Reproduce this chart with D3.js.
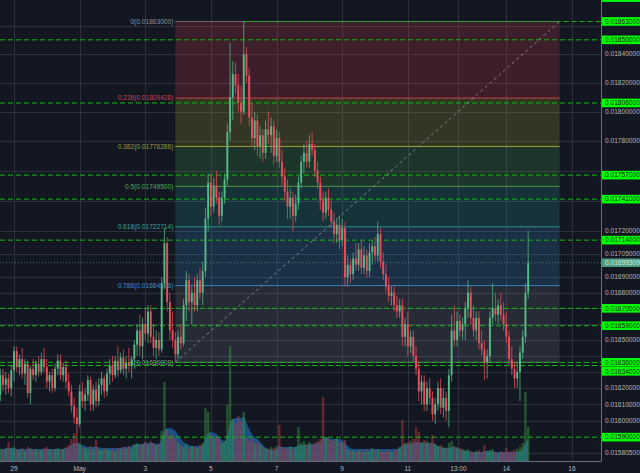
<!DOCTYPE html>
<html><head><meta charset="utf-8">
<script src="https://cdn.jsdelivr.net/npm/d3@7/dist/d3.min.js"></script>
<style>html,body{margin:0;padding:0;background:#131722;overflow:hidden}svg{display:block}</style>
</head><body><svg id="c" width="640" height="473"></svg>
<script>
// ---------- DATA (2h candles) ----------
const startTime = Date.UTC(2018,3,28,14); // first candle: Apr 28 14:00
const candleHours = 2;
const open = [
0.01616,0.01628,0.01622,0.01626,0.01620,0.01631,0.01643,0.01633,0.01638,0.01629,
0.01635,0.01617,0.01632,0.01628,0.01635,0.01630,0.01638,0.01633,0.01624,0.01628,
0.01620,0.01632,0.01637,0.01628,0.01633,0.01624,0.01618,0.01609,0.01602,0.01598,
0.01618,0.01612,0.01616,0.01625,0.01610,0.01619,0.01612,0.01622,0.01626,0.01618,
0.01629,0.01634,0.01628,0.01637,0.01631,0.01639,0.01632,0.01636,0.01634,0.01638,
0.01647,0.01656,0.01646,0.01660,0.01654,0.01668,0.01652,0.01645,0.01650,0.01644,
0.01686,0.01712,0.01674,0.01656,0.01650,0.01641,0.01652,0.01648,0.01672,0.01688,
0.01674,0.01680,0.01672,0.01688,0.01680,0.01694,0.01728,0.01752,0.01736,0.01750,
0.01742,0.01730,0.01742,0.01754,0.01786,0.01810,0.01826,0.01818,0.01806,0.01800,
0.01840,0.01825,0.01796,0.01782,0.01794,0.01776,0.01784,0.01772,0.01788,0.01784,
0.01790,0.01770,0.01782,0.01766,0.01756,0.01746,0.01736,0.01742,0.01730,0.01738,
0.01752,0.01766,0.01772,0.01766,0.01778,0.01774,0.01760,0.01752,0.01740,0.01732,
0.01742,0.01734,0.01726,0.01718,0.01724,0.01714,0.01722,0.01690,0.01698,0.01692,
0.01702,0.01698,0.01708,0.01696,0.01704,0.01694,0.01706,0.01710,0.01704,0.01718,
0.01700,0.01692,0.01684,0.01678,0.01680,0.01672,0.01668,0.01672,0.01652,0.01660,
0.01646,0.01652,0.01640,0.01632,0.01618,0.01624,0.01610,0.01620,0.01614,0.01604,
0.01610,0.01620,0.01608,0.01614,0.01606,0.01628,0.01656,0.01650,0.01662,0.01656,
0.01660,0.01670,0.01680,0.01664,0.01656,0.01664,0.01648,0.01644,0.01636,0.01640,
0.01664,0.01670,0.01666,0.01672,0.01666,0.01660,0.01652,0.01638,0.01632,0.01626,
0.01630,0.01642,0.01652,0.01680];
const high = [
0.01632,0.01632,0.01630,0.01629,0.01634,0.01646,0.01646,0.01641,0.01645,0.01638,
0.01637,0.01634,0.01638,0.01637,0.01640,0.01642,0.01645,0.01638,0.01630,0.01632,
0.01635,0.01641,0.01641,0.01636,0.01637,0.01629,0.01622,0.01614,0.01608,0.01622,
0.01624,0.01620,0.01628,0.01627,0.01622,0.01624,0.01626,0.01630,0.01628,0.01632,
0.01638,0.01640,0.01640,0.01646,0.01642,0.01644,0.01640,0.01645,0.01640,0.01650,
0.01660,0.01666,0.01664,0.01670,0.01672,0.01672,0.01660,0.01656,0.01655,0.01690,
0.01722,0.01716,0.01680,0.01668,0.01655,0.01656,0.01660,0.01676,0.01694,0.01692,
0.01684,0.01690,0.01692,0.01696,0.01700,0.01735,0.01758,0.01758,0.01755,0.01760,
0.01746,0.01746,0.01758,0.01792,0.01848,0.01835,0.01834,0.01826,0.01818,0.01863,
0.01845,0.01830,0.01806,0.01800,0.01798,0.01790,0.01788,0.01794,0.01800,0.01796,
0.01794,0.01788,0.01786,0.01774,0.01762,0.01754,0.01748,0.01746,0.01744,0.01756,
0.01770,0.01778,0.01780,0.01784,0.01786,0.01778,0.01766,0.01756,0.01746,0.01746,
0.01748,0.01740,0.01732,0.01728,0.01730,0.01728,0.01726,0.01704,0.01702,0.01706,
0.01712,0.01712,0.01714,0.01710,0.01708,0.01712,0.01714,0.01716,0.01726,0.01722,
0.01706,0.01698,0.01690,0.01684,0.01684,0.01678,0.01676,0.01676,0.01664,0.01668,
0.01656,0.01656,0.01646,0.01636,0.01628,0.01628,0.01624,0.01626,0.01618,0.01614,
0.01624,0.01626,0.01620,0.01618,0.01632,0.01666,0.01672,0.01668,0.01666,0.01664,
0.01674,0.01688,0.01684,0.01672,0.01668,0.01668,0.01656,0.01650,0.01644,0.01668,
0.01686,0.01680,0.01676,0.01680,0.01674,0.01668,0.01656,0.01646,0.01636,0.01636,
0.01646,0.01656,0.01686,0.01720];
const low = [
0.01612,0.01618,0.01616,0.01617,0.01615,0.01624,0.01630,0.01628,0.01626,0.01622,
0.01614,0.01610,0.01625,0.01624,0.01627,0.01628,0.01630,0.01620,0.01618,0.01617,
0.01618,0.01628,0.01625,0.01624,0.01620,0.01615,0.01605,0.01598,0.01590,0.01596,
0.01608,0.01606,0.01612,0.01606,0.01606,0.01608,0.01609,0.01616,0.01614,0.01615,
0.01622,0.01624,0.01626,0.01627,0.01629,0.01628,0.01626,0.01630,0.01626,0.01632,
0.01640,0.01640,0.01638,0.01650,0.01648,0.01648,0.01640,0.01638,0.01640,0.01642,
0.01682,0.01668,0.01650,0.01645,0.01636,0.01638,0.01644,0.01646,0.01662,0.01668,
0.01660,0.01668,0.01668,0.01676,0.01672,0.01690,0.01720,0.01730,0.01732,0.01738,
0.01724,0.01726,0.01738,0.01750,0.01780,0.01794,0.01812,0.01800,0.01792,0.01798,
0.01820,0.01790,0.01776,0.01774,0.01770,0.01768,0.01766,0.01768,0.01778,0.01772,
0.01764,0.01766,0.01762,0.01750,0.01740,0.01728,0.01728,0.01720,0.01726,0.01734,
0.01748,0.01758,0.01762,0.01762,0.01770,0.01756,0.01748,0.01734,0.01726,0.01728,
0.01730,0.01722,0.01712,0.01712,0.01708,0.01710,0.01684,0.01684,0.01686,0.01688,
0.01694,0.01694,0.01692,0.01692,0.01690,0.01690,0.01698,0.01700,0.01700,0.01696,
0.01688,0.01680,0.01674,0.01672,0.01668,0.01664,0.01664,0.01646,0.01646,0.01640,
0.01642,0.01636,0.01628,0.01612,0.01610,0.01606,0.01606,0.01610,0.01600,0.01598,
0.01606,0.01604,0.01602,0.01600,0.01596,0.01624,0.01646,0.01646,0.01652,0.01650,
0.01650,0.01664,0.01660,0.01652,0.01650,0.01644,0.01640,0.01625,0.01626,0.01636,
0.01660,0.01662,0.01660,0.01662,0.01656,0.01648,0.01634,0.01628,0.01620,0.01620,
0.01612,0.01638,0.01648,0.01676];
const close = [
0.01628,0.01622,0.01626,0.01620,0.01631,0.01643,0.01633,0.01638,0.01629,0.01635,
0.01617,0.01632,0.01628,0.01635,0.01630,0.01638,0.01633,0.01624,0.01628,0.01620,
0.01632,0.01637,0.01628,0.01633,0.01624,0.01618,0.01609,0.01602,0.01598,0.01618,
0.01612,0.01616,0.01625,0.01610,0.01619,0.01612,0.01622,0.01626,0.01618,0.01629,
0.01634,0.01628,0.01637,0.01631,0.01639,0.01632,0.01636,0.01634,0.01638,0.01647,
0.01656,0.01646,0.01660,0.01654,0.01668,0.01652,0.01645,0.01650,0.01644,0.01686,
0.01712,0.01674,0.01656,0.01650,0.01641,0.01652,0.01648,0.01672,0.01688,0.01674,
0.01680,0.01672,0.01688,0.01680,0.01694,0.01728,0.01752,0.01736,0.01750,0.01742,
0.01730,0.01742,0.01754,0.01786,0.01810,0.01826,0.01818,0.01806,0.01800,0.01840,
0.01825,0.01796,0.01782,0.01794,0.01776,0.01784,0.01772,0.01788,0.01784,0.01790,
0.01770,0.01782,0.01766,0.01756,0.01746,0.01736,0.01742,0.01730,0.01738,0.01752,
0.01766,0.01772,0.01766,0.01778,0.01774,0.01760,0.01752,0.01740,0.01732,0.01742,
0.01734,0.01726,0.01718,0.01724,0.01714,0.01722,0.01690,0.01698,0.01692,0.01702,
0.01698,0.01708,0.01696,0.01704,0.01694,0.01706,0.01710,0.01704,0.01718,0.01700,
0.01692,0.01684,0.01678,0.01680,0.01672,0.01668,0.01672,0.01652,0.01660,0.01646,
0.01652,0.01640,0.01632,0.01618,0.01624,0.01610,0.01620,0.01614,0.01604,0.01610,
0.01620,0.01608,0.01614,0.01606,0.01628,0.01656,0.01650,0.01662,0.01656,0.01660,
0.01670,0.01680,0.01664,0.01656,0.01664,0.01648,0.01644,0.01636,0.01640,0.01664,
0.01670,0.01666,0.01672,0.01666,0.01660,0.01652,0.01638,0.01632,0.01626,0.01630,
0.01642,0.01652,0.01680,0.01699309];
const volume = [
12,11,13,19,12,14,12,11,13,10, 14,13,11,12,10,11,13,14,12,11,
12,13,11,12,14,16,22,28,23,18, 14,13,12,15,12,21,12,11,13,12,
11,12,10,13,12,14,12,15,13,17, 18,16,17,19,16,20,18,16,17,30,
79,31,25,27,22,18,16,14,17,13, 15,14,13,16,18,53,49,26,24,25,
22,18,20,56,115,42,38,45,40,49, 24,20,22,18,19,16,14,13,12,14,
13,15,36,14,12,13,15,12,14,34, 18,20,17,19,16,18,20,22,64,24,
22,21,20,23,19,18,21,12,11,10, 9,11,10,9,12,10,13,11,12,10,
9,10,11,9,10,12,14,41,18,19, 20,22,34,29,19,21,20,18,26,17,
15,16,14,13,18,20,15,14,13,12, 11,12,10,9,10,11,9,16,10,11,
12,9,8,10,9,13,9,10,11,12, 14,18,69,34];
const volumeMA = [
12,12,12,13,13,13,12,12,12,12, 12,12,12,12,12,12,12,12,12,12,
12,12,12,12,13,14,16,18,18,17, 16,15,14,14,14,14,14,13,13,13,
13,13,13,13,13,14,14,14,15,16, 17,17,17,18,18,18,18,17,17,22,
30,33,33,32,30,26,22,19,17,16, 15,15,15,15,16,24,28,29,28,27,
24,21,20,26,38,42,43,43,43,44, 38,32,27,24,22,19,16,13,12,11,
11,12,15,14,14,14,14,14,14,16, 16,16,16,17,17,17,18,19,24,24,
23,22,22,22,22,21,18,15,13,12, 12,12,12,12,12,12,12,12,12,12,
12,12,12,12,12,12,13,16,17,17, 17,18,19,19,18,18,18,18,18,17,
15,14,13,13,13,14,14,13,12,11, 10,10,9,9,9,9,9,10,10,10,
10,9,9,9,9,9,9,9,9,9, 10,12,18,22];
const volumeMax = 115;

// axis ticks
const yTicks = [0.0186,0.0184,0.0182,0.0180,0.0178,0.0176,0.0174,0.0172,0.01705,0.0169,0.0168,0.0167,0.0166,0.0165,0.0164,0.0163,0.0162,0.0161,0.0160,0.015805];
const xTickDates = [Date.UTC(2018,3,29),Date.UTC(2018,4,1),Date.UTC(2018,4,3),Date.UTC(2018,4,5),Date.UTC(2018,4,7),Date.UTC(2018,4,9),Date.UTC(2018,4,11),Date.UTC(2018,4,12,13),Date.UTC(2018,4,14),Date.UTC(2018,4,16)];
const xTickLabels = ["29","May","3","5","7","9","11","13:00","14","16"];
const priceTop = 0.018783, priceBottom = 0.015756;
const timeStart = Date.UTC(2018,3,28,13,46), timeEnd = Date.UTC(2018,4,16,21,15);

// horizontal levels
const hLines = [0.0188,0.01863,0.0185,0.01806,0.01757,0.01741,0.01714,0.0167,0.01659,0.01636,0.01634,0.0159];
const hLineFrom = [null,Date.UTC(2018,4,6,0),null,null,null,null,null,null,null,null,null,null];

// fibonacci retracement
const fibHigh = 0.01863, fibLow = 0.01636;
const fibFrom = Date.UTC(2018,4,3,22), fibTo = Date.UTC(2018,4,15,15);
const fibLevels = [0,0.236,0.382,0.5,0.618,0.786,1];
const fibColors = ["#787b86","#e8404f","#b2b233","#4caf50","#2aa694","#3d8fd1","#787b86"];
const fibTextColors = ["#8f929b","#c9414f","#9c9c3e","#4caf50","#3aa58f","#3d8fc8","#8f929b"];

// ---------- DRAW ----------
const plotR = 601, plotB = 461;
const svg = d3.select("#c");
const font = "'Liberation Sans', Arial, sans-serif";
const x = d3.scaleUtc().domain([new Date(timeStart), new Date(timeEnd)]).range([0, plotR]);
const y = d3.scaleLog().domain([priceTop, priceBottom]).range([0, plotB]);
const v = d3.scaleLinear().domain([0, volumeMax]).range([plotB, plotB - 115]);
const times = open.map((_, i) => new Date(startTime + i * candleHours * 3600e3));
const N = open.length;
const last = close[N-1];

svg.append("rect").attr("width",640).attr("height",473).attr("fill","#131722");

const plot = svg.append("g");
plot.append("clipPath").attr("id","pc").append("rect").attr("width",plotR).attr("height",plotB);
const g = plot.append("g").attr("clip-path","url(#pc)");

// grid
g.selectAll(".hg").data(yTicks).join("line")
  .attr("x1",0).attr("x2",plotR).attr("y1",d=>Math.round(y(d))+0.5).attr("y2",d=>Math.round(y(d))+0.5)
  .attr("stroke","#2c303d").attr("stroke-width",1);
g.selectAll(".vg").data(xTickDates).join("line")
  .attr("y1",0).attr("y2",plotB).attr("x1",d=>Math.round(x(new Date(d)))+0.5).attr("x2",d=>Math.round(x(new Date(d)))+0.5)
  .attr("stroke","#2c303d").attr("stroke-width",1);

// fib
const fibPrice = l => fibHigh - (fibHigh - fibLow) * l;
const fx0 = x(new Date(fibFrom)), fx1 = x(new Date(fibTo));
for (let k = 1; k < fibLevels.length; k++) {
  const y0 = y(fibPrice(fibLevels[k-1])), y1 = y(fibPrice(fibLevels[k]));
  g.append("rect").attr("x",fx0).attr("width",fx1-fx0).attr("y",y0).attr("height",y1-y0)
    .attr("fill",fibColors[k]).attr("fill-opacity",0.2);
}
fibLevels.forEach((l,k) => {
  const yy = y(fibPrice(l));
  g.append("line").attr("x1",fx0).attr("x2",fx1).attr("y1",yy).attr("y2",yy)
    .attr("stroke",fibColors[k]).attr("stroke-opacity",0.85).attr("stroke-width",1);
  g.append("text").attr("x",fx0-2).attr("y",yy).attr("dy","0.35em").attr("text-anchor","end")
    .attr("font-family",font).attr("font-size",6.6).attr("fill",fibTextColors[k])
    .text(`${l}(${fibPrice(l).toFixed(8)})`);
});

// volume
const area = d3.area().x((d,i)=>x(times[i])).y0(plotB).y1(d=>v(d)).curve(d3.curveMonotoneX);
g.append("path").datum(volumeMA).attr("d",area).attr("fill","#1e64a6").attr("fill-opacity",0.75);
g.selectAll(".vb").data(volume).join("rect")
  .attr("x",(d,i)=>x(times[i])-1.2).attr("width",2.4)
  .attr("y",d=>v(d)).attr("height",d=>plotB-v(d))
  .attr("fill",(d,i)=>close[i]>=open[i]?"#3ca03c":"#c83c3c").attr("fill-opacity",0.45);

// horizontal dashed lines
hLines.forEach((p,i) => {
  const yy = y(p);
  const x0 = hLineFrom[i] ? x(new Date(hLineFrom[i])) : 0;
  g.append("line").attr("x1",x0).attr("x2",plotR).attr("y1",yy).attr("y2",yy)
    .attr("stroke","#17b517").attr("stroke-width",1).attr("stroke-dasharray","5,3");
});

// trend line
g.append("line").attr("x1",fx0).attr("y1",y(fibLow)).attr("x2",fx1).attr("y2",y(fibHigh))
  .attr("stroke","#9598a1").attr("stroke-opacity",0.8).attr("stroke-width",1).attr("stroke-dasharray","3,3");

// candles
const up = "#53b987", dn = "#eb4d5c";
const cg = g.append("g");
cg.selectAll(".w").data(times).join("line")
  .attr("x1",(d)=>x(d)).attr("x2",(d)=>x(d))
  .attr("y1",(d,i)=>y(high[i])).attr("y2",(d,i)=>y(low[i]))
  .attr("stroke",(d,i)=>close[i]>=open[i]?up:dn).attr("stroke-width",0.9).attr("stroke-opacity",0.85);
cg.selectAll(".b").data(times).join("rect")
  .attr("x",d=>x(d)-0.95).attr("width",1.9)
  .attr("y",(d,i)=>y(Math.max(open[i],close[i])))
  .attr("height",(d,i)=>Math.max(1,Math.abs(y(open[i])-y(close[i]))))
  .attr("fill",(d,i)=>close[i]>=open[i]?up:dn);

// last price line
g.append("line").attr("x1",0).attr("x2",plotR).attr("y1",y(last)).attr("y2",y(last))
  .attr("stroke","#53b987").attr("stroke-opacity",0.6).attr("stroke-dasharray","1,2");

// axes
svg.append("line").attr("x1",plotR+0.5).attr("x2",plotR+0.5).attr("y1",0).attr("y2",plotB+0.5).attr("stroke","#6a6d78");
svg.append("line").attr("x1",0).attr("x2",plotR+0.5).attr("y1",plotB+0.5).attr("y2",plotB+0.5).attr("stroke","#6a6d78");

// price labels (with overlap push-down)
const lbl = hLines.map(p=>({p, yy:y(p), cur:false})).concat([{p:last, yy:y(last), cur:true}]).sort((a,b)=>a.yy-b.yy);
let prev = -1e9;
lbl.forEach(d => { d.cy = Math.max(d.yy, prev + 9); prev = d.cy; });

// y tick labels: hidden where a price label covers them
const visibleTicks = yTicks.filter(t => lbl.every(d => Math.abs(d.cy - y(t)) > 8.6));
svg.selectAll(".yt").data(visibleTicks).join("text")
  .attr("x",605).attr("y",d=>y(d)).attr("dy","0.35em")
  .attr("font-family",font).attr("font-size",6.6).attr("fill","#b2b5be")
  .text(d=>d.toFixed(8));
svg.selectAll(".xt").data(xTickDates).join("text")
  .attr("x",d=>x(new Date(d))).attr("y",469).attr("dy","0.35em").attr("text-anchor","middle")
  .attr("font-family",font).attr("font-size",6.6).attr("fill","#b2b5be")
  .text((d,i)=>xTickLabels[i]);

const lg = svg.append("g");
lbl.forEach(d => {
  lg.append("rect").attr("x",plotR+1).attr("y",d.cy-4.3).attr("width",640-plotR-1).attr("height",8.6)
    .attr("fill", d.cur ? "#4b9d80" : "#00ff00");
  lg.append("text").attr("x",605).attr("y",d.cy).attr("dy","0.35em")
    .attr("font-family",font).attr("font-size",6.6).attr("fill", d.cur ? "#d8f0e6" : "#1b1b1b")
    .text(d.p.toFixed(8));
});
</script></body></html>
